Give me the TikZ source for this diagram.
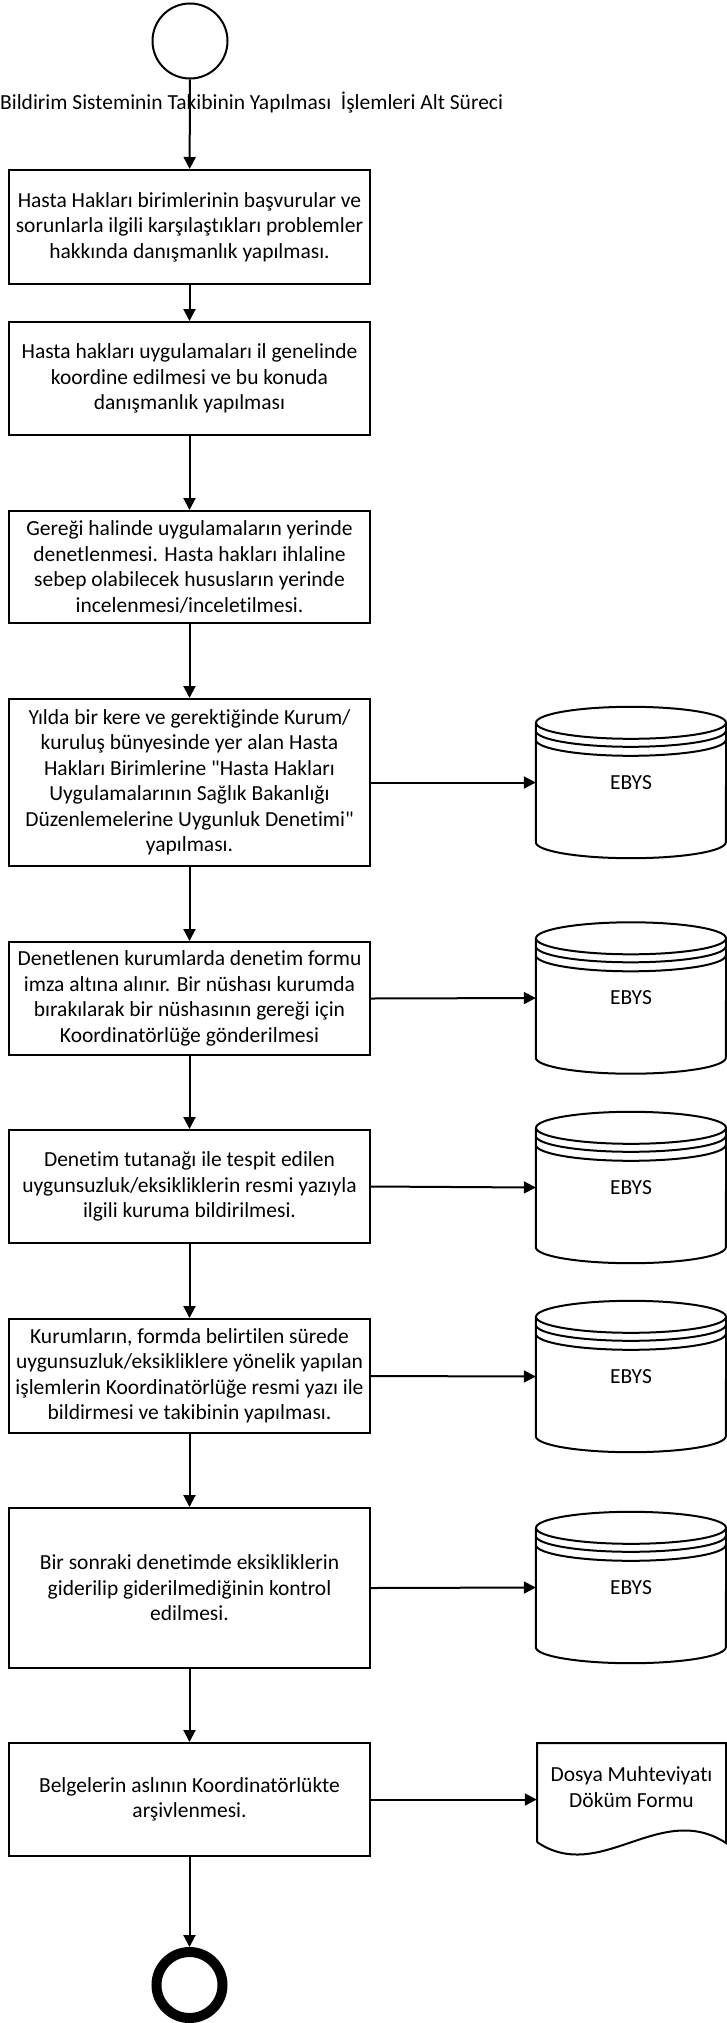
\documentclass[tikz,border=0pt]{standalone}
\usepackage{fontspec}
\setmainfont{Carlito}[Ligatures=NoCommon]
\usetikzlibrary{arrows.meta}

\tikzset{
	adim/.style={draw, line width=2pt, minimum width=361pt, align=center, inner sep=2pt},
	dbnode/.style={minimum width=190pt, minimum height=151pt, inner sep=0pt},
	akis/.style={-{Triangle[length=12pt,width=12pt]}, line width=2pt}
}

\begin{document}
\begin{tikzpicture}[x=1pt,y=1pt,font=\fontsize{21.5}{25.5}\selectfont]
			\useasboundingbox (0,0) rectangle (727,-2023);
			%\draw [help lines] (0,0) grid (727,-2023);
			\node [circle, draw, line width=2pt, minimum size=75pt, inner sep=0pt] (basla) at (190,-41) {};
			\node [anchor=west, inner sep=0pt] (baslik) at (0,-103) {Bildirim Sisteminin Takibinin Yapılması\ \ İşlemleri Alt Süreci};
			
			\node [adim, minimum height=114pt] (a1) at (189.5,-227) {Hasta Hakları birimlerinin başvurular ve\\sorunlarla ilgili karşılaştıkları problemler\\hakkında danışmanlık yapılması.};
			\node [adim, minimum height=113pt] (a2) at (189.5,-378.5) {Hasta hakları uygulamaları il genelinde\\koordine edilmesi ve bu konuda\\danışmanlık yapılması};
			\node [adim, minimum height=112pt] (a3) at (189.5,-567) {Gereği halinde uygulamaların yerinde\\denetlenmesi. Hasta hakları ihlaline\\sebep olabilecek hususların yerinde\\incelenmesi/inceletilmesi.};
			\node [adim, minimum height=167pt] (a4) at (189.5,-782.5) {Yılda bir kere ve gerektiğinde Kurum/\\kuruluş bünyesinde yer alan Hasta\\Hakları Birimlerine \textquotedbl Hasta Hakları\\Uygulamalarının Sağlık Bakanlığı\\Düzenlemelerine Uygunluk Denetimi\textquotedbl\\yapılması.};
			\node [adim, minimum height=113pt] (a5) at (189.5,-998.5) {Denetlenen kurumlarda denetim formu\\imza altına alınır. Bir nüshası kurumda\\bırakılarak bir nüshasının gereği için\\Koordinatörlüğe gönderilmesi};
			\node [adim, minimum height=113pt] (a6) at (189.5,-1186.5) {Denetim tutanağı ile tespit edilen\\uygunsuzluk/eksikliklerin resmi yazıyla\\ilgili kuruma bildirilmesi.};
			\node [adim, minimum height=114pt] (a7) at (189.5,-1376) {Kurumların, formda belirtilen sürede\\uygunsuzluk/eksikliklere yönelik yapılan\\işlemlerin Koordinatörlüğe resmi yazı ile\\bildirmesi ve takibinin yapılması.};
			\node [adim, minimum height=160pt] (a8) at (189.5,-1588) {Bir sonraki denetimde eksikliklerin\\giderilip giderilmediğinin kontrol\\edilmesi.};
			\node [adim, minimum height=113pt] (a9) at (189.5,-1799.5) {Belgelerin aslının Koordinatörlükte\\arşivlenmesi.};
			\node [circle, draw, line width=10pt, minimum size=66pt, inner sep=0pt] (bitis) at (189.5,-1985) {};
			
			% EBYS cylinders
			\foreach \nm/\yy in {dbA/782.5, dbB/998, dbC/1187.5, dbD/1376.5, dbE/1587.5} {
				\node [dbnode] (\nm) at (631,-\yy) {EBYS};
				\draw [line width=2pt] ([yshift=-16pt]\nm.north) ellipse [x radius=95pt, y radius=16pt];
				\draw [line width=2pt] ([yshift=-16pt]\nm.north west) -- ([yshift=16pt]\nm.south west) arc [start angle=180, end angle=360, x radius=95pt, y radius=16pt] -- ([yshift=-16pt]\nm.north east);
				\draw [line width=2pt] ([yshift=-24pt]\nm.north west) arc [start angle=180, end angle=360, x radius=95pt, y radius=16pt];
				\draw [line width=2pt] ([yshift=-33pt]\nm.north west) arc [start angle=180, end angle=360, x radius=95pt, y radius=16pt];
			}
			
			\node [minimum width=189pt, minimum height=88pt, inner sep=0pt, align=center] (belge) at (631.5,-1787) {Dosya Muhteviyatı\\Döküm Formu};
			\draw [line width=2pt] (537,-1842) -- (537,-1743) -- (726,-1743) -- (726,-1843) .. controls (660,-1800) and (600,-1885) .. (537,-1842);
			
			\draw [akis] (basla) -- (a1);
			\draw [akis] (a1) -- (a2);
			\draw [akis] (a2) -- (a3);
			\draw [akis] (a3) -- (a4);
			\draw [akis] (a4) -- (a5);
			\draw [akis] (a5) -- (a6);
			\draw [akis] (a6) -- (a7);
			\draw [akis] (a7) -- (a8);
			\draw [akis] (a8) -- (a9);
			\draw [akis] (a9) -- (bitis);
			
			\draw [akis] (a4.east) -- (dbA.west);
			\draw [akis] (a5.east) -- (dbB.west);
			\draw [akis] (a6.east) -- (dbC.west);
			\draw [akis] (a7.east) -- (dbD.west);
			\draw [akis] (a8.east) -- (dbE.west);
			\draw [akis] (a9.east) -- (a9.east -| belge.west);
\end{tikzpicture}
\end{document}
